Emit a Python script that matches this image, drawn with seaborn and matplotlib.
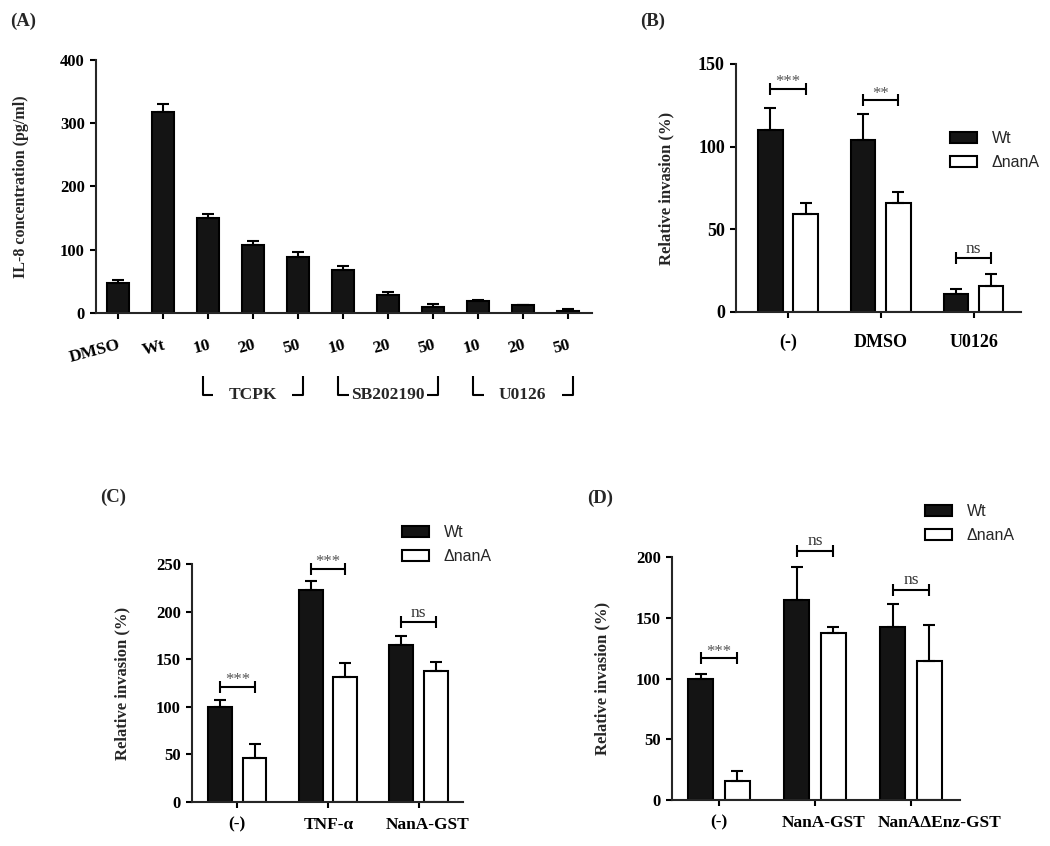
import numpy as np
import pandas as pd
import matplotlib
matplotlib.use("Agg")
import matplotlib.pyplot as plt
import matplotlib.transforms as mtransforms
from matplotlib.patches import Patch
import seaborn as sns

# ---- data ----
a_keys = ['DMSO', 'Wt', 'TCPK10', 'TCPK20', 'TCPK50', 'SB10', 'SB20', 'SB50', 'U10', 'U20', 'U50']
a_ticklabels = ['DMSO', 'Wt', '10', '20', '50', '10', '20', '50', '10', '20', '50']
a_values = [47, 318, 150, 108, 89, 68, 28, 9, 19, 12.5, 3.7]
a_err = [5, 12, 6, 5.5, 8, 6, 4.7, 4.7, 1, 0.6, 2]
a_groups = ['TCPK', 'SB202190', 'U0126']

strains = ['Wt', 'ΔnanA']

b_cats = ['(-)', 'DMSO', 'U0126']
b_wt = [110, 104, 11]
b_wt_err = [13.5, 16, 3]
b_nan = [59, 66, 15.7]
b_nan_err = [7, 6.6, 7.3]
b_sig = ['***', '**', 'ns']
b_sig_y = [135, 128, 32.6]

c_cats = ['(-)', 'TNF-α', 'NanA-GST']
c_wt = [100, 222.5, 165]
c_wt_err = [7, 9.5, 9.7]
c_nan = [46, 131.5, 137.5]
c_nan_err = [15, 14, 9.8]
c_sig = ['***', '***', 'ns']
c_sig_y = [121, 244.5, 189]

d_cats = ['(-)', 'NanA-GST', 'NanAΔEnz-GST']
d_wt = [100, 165, 142.7]
d_wt_err = [3.4, 27, 19]
d_nan = [16, 137.7, 114]
d_nan_err = [8, 4.3, 30]
d_sig = ['***', 'ns', 'ns']
d_sig_y = [116.6, 205, 172.8]

sns.set_style('ticks')
plt.rcParams['font.family'] = ['Liberation Serif', 'DejaVu Serif']
plt.rcParams['font.weight'] = 'bold'
plt.rcParams['axes.linewidth'] = 1.5

BLACK = '#141414'
W, H = 1050, 846
fig = plt.figure(figsize=(W / 100, H / 100), dpi=100)


def px_axes(x0, x1, y0, y1):
    # axes box from pixel edges (left, right, top, bottom)
    return fig.add_axes([x0 / W, 1 - y1 / H, (x1 - x0) / W, (y1 - y0) / H])


def style_axes(ax, ymax, ystep, xlim, ytick_size=12):
    ax.set_ylim(0, ymax)
    ax.set_yticks(np.arange(0, ymax + 1, ystep))
    ax.set_xlim(*xlim)
    sns.despine(ax=ax)
    ax.tick_params(direction='out', length=4.5, width=1.5, colors='black')
    ax.tick_params(axis='y', labelsize=ytick_size)
    for lab in ax.get_yticklabels():
        lab.set_fontweight('bold')
    ax.set_xlabel('')


# ---- panel A ----
axA = px_axes(96, 592, 60, 313)
dfA = pd.DataFrame({'cond': a_keys, 'val': a_values})
sns.barplot(data=dfA, x='cond', y='val', order=a_keys, color=BLACK, width=0.49,
            edgecolor='black', linewidth=1.5, saturation=1, errorbar=None, ax=axA)
xa = np.arange(len(a_keys))
axA.errorbar(xa, a_values, yerr=[np.zeros(len(a_err)), a_err], fmt='none',
             ecolor='black', elinewidth=1.5, capsize=4.2, capthick=1.5)
style_axes(axA, 400, 100, (-0.49, 10.53))
axA.set_xticks(xa)
axA.set_xticklabels(a_ticklabels, rotation=15, ha='right', rotation_mode='anchor',
                    fontsize=12.5, fontweight='bold')
axA.tick_params(axis='x', pad=13)
axA.set_ylabel('IL-8 concentration (pg/ml)', fontsize=11.5, fontweight='bold')
axA.yaxis.set_label_coords(-0.135, 0.5)

trA = mtransforms.blended_transform_factory(axA.transData, axA.transAxes)
for g, name in enumerate(a_groups):
    first, last = 2 + 3 * g, 4 + 3 * g
    xl, xr = first - 0.12, last + 0.1
    y_top, y_bot = -0.249, -0.324
    axA.plot([xl, xl, xl + 0.24], [y_top, y_bot, y_bot], color='black', lw=1.5,
             transform=trA, clip_on=False, solid_capstyle='butt')
    axA.plot([xr - 0.24, xr, xr], [y_bot, y_bot, y_top], color='black', lw=1.5,
             transform=trA, clip_on=False, solid_capstyle='butt')
    axA.text((xl + xr) / 2, y_bot, name, transform=trA, ha='center', va='center',
             fontsize=12.5, fontweight='bold')


# ---- panels B, C, D ----
def invasion_panel(box, cats, wt, wt_err, nan, nan_err, sig, sig_y, ymax, xlim,
                   label_x, pad, legend_pos, cat_size=12.5, ytick_size=12,
                   label_shift=None):
    ax = px_axes(*box)
    df = pd.DataFrame({
        'cat': cats * 2,
        'strain': [strains[0]] * len(cats) + [strains[1]] * len(cats),
        'val': wt + nan,
    })
    sns.barplot(data=df, x='cat', y='val', hue='strain', order=cats, hue_order=strains,
                palette={strains[0]: BLACK, strains[1]: 'white'}, width=0.76, gap=0.31,
                edgecolor='black', linewidth=1.5, saturation=1, errorbar=None, ax=ax)
    leg = ax.get_legend()
    if leg is not None:
        leg.remove()
    xs = np.arange(len(cats))
    for off, vals, errs in [(-0.19, wt, wt_err), (0.19, nan, nan_err)]:
        ax.errorbar(xs + off, vals, yerr=[np.zeros(len(errs)), errs], fmt='none',
                    ecolor='black', elinewidth=1.5, capsize=4.2, capthick=1.5, zorder=3)
    for i, (s, yb) in enumerate(zip(sig, sig_y)):
        ax.plot([i - 0.19, i + 0.19], [yb, yb], color='black', lw=1.5,
                marker='|', markersize=8, markeredgewidth=1.5, clip_on=False)
        ax.annotate(s, xy=(i, yb), xytext=(0, 2 if s != 'ns' else 4),
                    textcoords='offset points', ha='center', va='baseline',
                    fontsize=12 if s != 'ns' else 12.5, fontweight='normal',
                    color='#555555' if s != 'ns' else '#333333', annotation_clip=False)
    style_axes(ax, ymax, 50, xlim, ytick_size)
    ax.set_xticks(xs)
    ax.set_xticklabels(cats, fontsize=cat_size, fontweight='bold')
    ax.tick_params(axis='x', pad=pad)
    if label_shift:
        for lab, dx in zip(ax.get_xticklabels(), label_shift):
            lab.set_transform(lab.get_transform() +
                              mtransforms.ScaledTranslation(dx / 100, 0, fig.dpi_scale_trans))
    ax.set_ylabel('Relative invasion (%)', fontsize=12, fontweight='bold')
    ax.yaxis.set_label_coords(label_x, 0.5)
    handles = [Patch(facecolor=BLACK, edgecolor='black', linewidth=1.5),
               Patch(facecolor='white', edgecolor='black', linewidth=1.5)]
    fig.legend(handles, strains, loc='upper left',
               bbox_to_anchor=(legend_pos[0] / W, 1 - legend_pos[1] / H),
               frameon=False, borderpad=0, borderaxespad=0, handlelength=1.7,
               handleheight=0.7, handletextpad=0.9, labelspacing=0.55,
               prop={'family': 'Liberation Sans', 'size': 11.5, 'weight': 'normal'})
    return ax


invasion_panel((736, 1021, 64, 312), b_cats, b_wt, b_wt_err, b_nan, b_nan_err,
               b_sig, b_sig_y, 150, (-0.56, 2.51), -0.215, 11, (950, 131),
               cat_size=13, ytick_size=13)
invasion_panel((192, 463, 564, 802), c_cats, c_wt, c_wt_err, c_nan, c_nan_err,
               c_sig, c_sig_y, 250, (-0.5, 2.49), -0.229, 6, (402, 525),
               label_shift=[0, 1, 9])
invasion_panel((672, 960, 557, 800), d_cats, d_wt, d_wt_err, d_nan, d_nan_err,
               d_sig, d_sig_y, 200, (-0.49, 2.51), -0.215, 6, (925, 504),
               cat_size=12.5, label_shift=[0, 9, 29])

# panel letters
for txt, x, y in [('(A)', 10, 21), ('(B)', 640, 21), ('(C)', 100, 497), ('(D)', 587, 498)]:
    fig.text(x / W, 1 - y / H, txt, ha='left', va='center', fontsize=13.5, fontweight='bold')

fig.savefig('out.png', dpi=100, facecolor='white')
